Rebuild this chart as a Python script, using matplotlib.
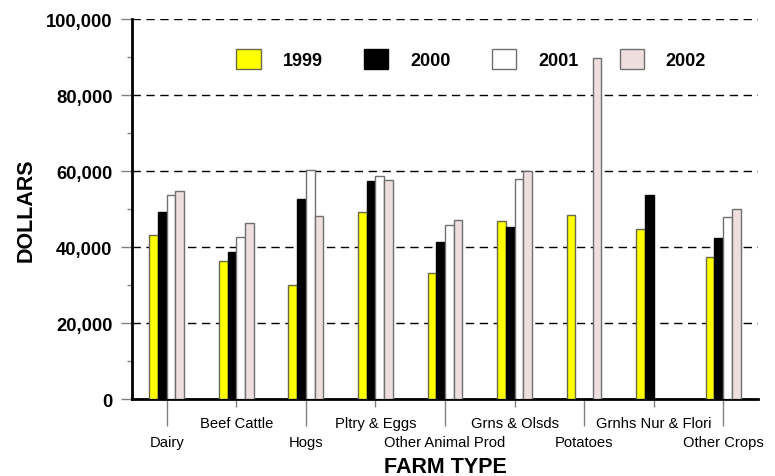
import numpy as np
import matplotlib.pyplot as plt
from matplotlib.ticker import FuncFormatter, MultipleLocator

farm_types = ["Dairy", "Beef Cattle", "Hogs", "Pltry & Eggs", "Other Animal Prod",
              "Grns & Olsds", "Potatoes", "Grnhs Nur & Flori", "Other Crops"]
years = ["1999", "2000", "2001", "2002"]
v1999 = [43200, 36200, 30000, 49300, 33200, 46800, 48500, 44700, 37400]
v2000 = [49300, 38600, 52600, 57500, 41400, 45400, np.nan, 53800, 42400]
v2001 = [53800, 42700, 60400, 58800, 45800, 58000, np.nan, np.nan, 47800]
v2002 = [54800, 46300, 48200, 57700, 47200, 60100, 89700, np.nan, 50100]

plt.rcParams['font.family'] = ['Liberation Sans', 'DejaVu Sans']

fig = plt.figure(figsize=(7.75, 4.77), dpi=100)
ax = fig.add_axes([0.1703, 0.1614, 0.8077, 0.7966])

x = np.arange(len(farm_types))
w = 0.125
series = [v1999, v2000, v2001, v2002]
faces = ["#ffff00", "#000000", "#ffffff", "#eedede"]
edges = ["#6a6a4a", "#000000", "#707070", "#707070"]
for i, (vals, fc, ec, lab) in enumerate(zip(series, faces, edges, years)):
    ax.bar(x + (i - 1.5) * w, vals, width=w, color=fc, edgecolor=ec,
           linewidth=1, label=lab, zorder=3)

ax.set_xlim(-0.5, 8.5)
ax.set_ylim(0, 100000)
ax.yaxis.set_major_locator(MultipleLocator(20000))
ax.yaxis.set_minor_locator(MultipleLocator(10000))
ax.yaxis.set_major_formatter(FuncFormatter(lambda v, p: f"{int(v):,}"))
ax.tick_params(axis='y', which='major', length=8, width=1, color='#808080',
               pad=6, labelsize=13.2)
ax.tick_params(axis='y', which='minor', length=3.6, width=1, color='#808080')
for t in ax.get_yticklabels():
    t.set_fontweight('bold')

ax.grid(axis='y', which='major', color='black', linestyle=(0, (6, 4)), linewidth=1)
ax.set_axisbelow(True)

# staggered category labels: even ones low with long ticks, odd ones high
ax.set_xticks(x[::2])
ax.set_xticklabels(farm_types[::2])
ax.set_xticks(x[1::2], minor=True)
ax.set_xticklabels(farm_types[1::2], minor=True)
ax.tick_params(axis='x', which='major', length=19.5, width=1, color='#808080',
               pad=6.5, labelsize=10.6)
ax.tick_params(axis='x', which='minor', length=5.8, width=1, color='#808080',
               pad=6.5, labelsize=10.6)

for s in ['top', 'right']:
    ax.spines[s].set_visible(False)
ax.spines['left'].set_linewidth(2)
ax.spines['bottom'].set_linewidth(2)

ax.set_ylabel("DOLLARS", fontsize=15.5, fontweight='bold', labelpad=7)
ax.set_xlabel("FARM TYPE", fontsize=15.5, fontweight='bold', labelpad=5)

leg = ax.legend(loc='center', bbox_to_anchor=(0.542, 0.895), ncol=4, frameon=False,
                prop={'size': 13, 'weight': 'bold'}, handlelength=1.35,
                handleheight=1.35, handletextpad=1.2, columnspacing=2.3)

fig.savefig("out.png", dpi=100)
